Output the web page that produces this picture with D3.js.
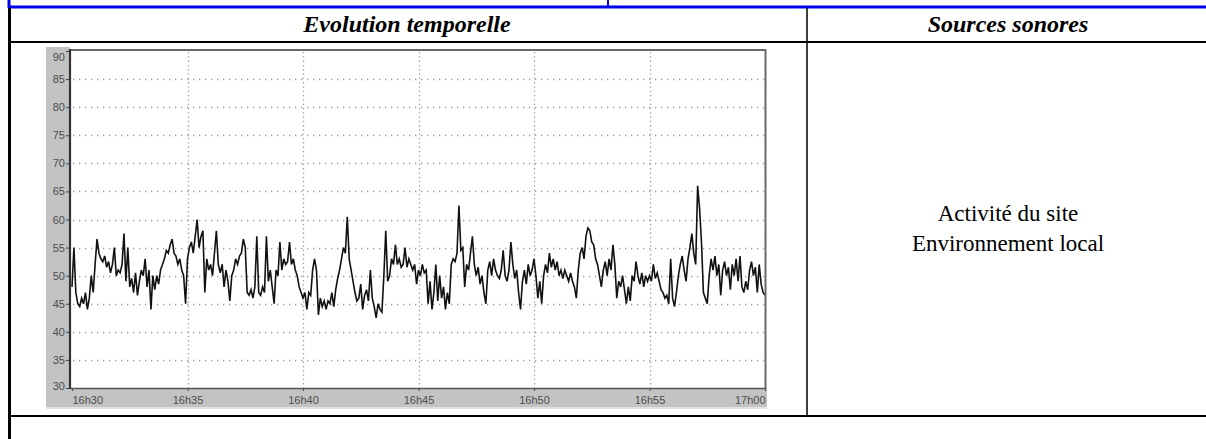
<!DOCTYPE html>
<html lang="fr">
<head>
<meta charset="utf-8">
<script src="https://cdn.jsdelivr.net/npm/d3@7"></script>
<style>
  body { margin: 0; background: #fff; }
  svg { display: block; }
  .hed { font-family: "Liberation Serif", "Times New Roman", serif; font-weight: bold; font-style: italic; font-size: 24px; }
  .src { font-family: "Liberation Serif", "Times New Roman", serif; font-size: 23px; }
  .axis text { font-family: "Liberation Sans", Arial, sans-serif; font-size: 11px; fill: #4d4d4d; }
  .axis line { stroke: #444; }
  .axis .domain { display: none; }
</style>
</head>
<body>
<svg id="page" width="1206" height="439"></svg>
<script>
var headers = ["Evolution temporelle", "Sources sonores"];
var sources = ["Activité du site", "Environnement local"];
var timeLabels = ["16h30", "16h35", "16h40", "16h45", "16h50", "16h55", "17h00"];
var levelTicks = [30, 35, 40, 45, 50, 55, 60, 65, 70, 75, 80, 85, 90];
var stepSeconds = 5;

// dB(A), one reading every 5 s, one line per minute
var levels = [
  48, 55, 47, 45, 44.5, 46, 45, 47, 44, 46, 50, 47,
  52, 56.5, 54, 53, 52.5, 53.5, 51.5, 52.5, 50.5, 52, 55, 50,
  51, 50.5, 52, 57.5, 49, 55, 48, 49.5, 47, 50.5, 46.5, 49,
  51, 50, 53, 48, 51, 44, 50, 47.5, 50, 48.5, 51, 52,
  53, 54.5, 54, 55.5, 56.5, 54, 53.5, 52, 53, 51, 50, 45,
  53, 55, 56, 54, 57, 60, 55, 57, 58, 47, 53, 51,
  52, 50, 54, 58, 52, 50.5, 52, 48, 51, 49, 45.5, 50,
  51, 53, 52, 53.5, 54, 56.5, 55, 47, 46.5, 47.5, 46, 48,
  57, 47, 46.5, 48, 47, 57, 49, 51, 48, 45, 51, 50,
  56, 51, 53, 52, 52.5, 56, 52, 53, 51, 50, 48, 47,
  46, 47, 44, 47, 46.5, 51, 53, 51, 43, 46, 44.5, 45.5,
  44, 45.5, 45, 47, 44.5, 47.5, 49.5, 51, 53, 55, 54, 60.5,
  53, 51, 49, 47, 45.5, 46, 48.5, 44, 46.5, 47.5, 45.5, 51,
  46, 44.5, 42.5, 45, 44, 43.5, 50, 58, 49, 50, 53, 52,
  55.5, 52, 53, 51.5, 52, 55, 51.5, 53, 52, 51, 52, 48.5,
  51, 50, 52, 50.5, 51, 45, 49, 44, 47, 52, 45.5, 50,
  46, 48, 44, 47, 45, 52, 53, 52.5, 54, 62.5, 54.5, 55,
  48, 52, 51, 54, 57, 52, 50, 51.5, 48.5, 50, 47, 45,
  51, 52.5, 50, 53, 51, 50, 49.5, 51, 54.5, 50, 49, 51,
  56, 52, 49.5, 51, 47, 44, 49, 51, 48.5, 52, 50, 51,
  53, 50, 46, 49, 45, 50, 52, 50.5, 54, 51.5, 53, 51,
  52.5, 50, 51, 49.5, 51, 50, 49, 50.5, 49, 48, 46, 51,
  54, 55, 53, 57, 58.5, 58, 56, 55.5, 53, 52, 50, 48,
  51, 52.5, 50, 53, 51, 55.5, 52, 46, 49, 48, 50, 47.5,
  45, 48, 45.5, 50, 49, 52.5, 50, 48.5, 50.5, 48, 50, 49,
  50, 49, 52, 49.5, 50.5, 49, 47.5, 47, 46, 46.5, 45, 53,
  46, 44.5, 47, 50, 52, 53.5, 51, 49, 53, 55, 57.5, 54,
  52, 66, 62, 56, 47, 46, 45, 50, 53, 51, 53.5, 50,
  52, 46.5, 51, 52.5, 50, 51.5, 47.5, 52, 50, 53, 49, 53.5,
  48, 47, 49, 47.5, 51, 52.5, 50, 51.5, 47, 52, 48.5, 47,
  46.5
];

function labelSeconds(label) {
  var p = label.split("h");
  var first = timeLabels[0].split("h");
  return ((+p[0] - +first[0]) * 60 + (+p[1] - +first[1])) * 60;
}
var timeTicks = timeLabels.map(labelSeconds);

var svg = d3.select("#page");

/* table frame */
var blue = "#0000ee";
svg.append("line").attr("x1", 8).attr("x2", 1206).attr("y1", 7).attr("y2", 7)
  .attr("stroke", blue).attr("stroke-width", 3);
svg.append("line").attr("x1", 9).attr("x2", 9).attr("y1", 0).attr("y2", 8)
  .attr("stroke", blue).attr("stroke-width", 3);
svg.append("line").attr("x1", 608).attr("x2", 608).attr("y1", 0).attr("y2", 8)
  .attr("stroke", blue).attr("stroke-width", 2);

svg.append("line").attr("x1", 9.5).attr("x2", 9.5).attr("y1", 8).attr("y2", 439)
  .attr("stroke", "#000").attr("stroke-width", 3);
svg.append("line").attr("x1", 11).attr("x2", 1206).attr("y1", 42).attr("y2", 42)
  .attr("stroke", "#000").attr("stroke-width", 2);
svg.append("line").attr("x1", 11).attr("x2", 1206).attr("y1", 416).attr("y2", 416)
  .attr("stroke", "#000").attr("stroke-width", 2);
svg.append("line").attr("x1", 807).attr("x2", 807).attr("y1", 8).attr("y2", 416)
  .attr("stroke", "#000").attr("stroke-width", 1.5);

svg.selectAll("text.hed")
  .data(headers)
  .enter().append("text")
  .attr("class", "hed")
  .attr("x", function(d, i) { return i == 0 ? 407 : 1008; })
  .attr("y", 32)
  .attr("text-anchor", "middle")
  .text(function(d) { return d; });

svg.selectAll("text.src")
  .data(sources)
  .enter().append("text")
  .attr("class", "src")
  .attr("x", 1008)
  .attr("y", function(d, i) { return 221 + i * 30; })
  .attr("text-anchor", "middle")
  .text(function(d) { return d; });

/* chart */
var x = d3.scaleLinear().domain([0, timeTicks[timeTicks.length - 1]]).range([72, 765]);
var y = d3.scaleLinear().domain([levelTicks[0], levelTicks[levelTicks.length - 1]]).range([388, 51]);

var chart = svg.append("g");

chart.append("rect").attr("x", 46).attr("y", 47).attr("width", 24).attr("height", 361).attr("fill", "#c3c3c3");
chart.append("rect").attr("x", 46).attr("y", 389).attr("width", 721).attr("height", 18).attr("fill", "#c3c3c3");
chart.append("line").attr("x1", 46).attr("x2", 767).attr("y1", 408).attr("y2", 408)
  .attr("stroke", "#e2e2e2").attr("stroke-width", 2);

// grid
chart.append("g")
  .selectAll("line")
  .data(levelTicks.slice(1, -1))
  .enter().append("line")
  .attr("x1", 73).attr("x2", 764)
  .attr("y1", function(d) { return Math.round(y(d)) + 0.5; })
  .attr("y2", function(d) { return Math.round(y(d)) + 0.5; })
  .attr("stroke", "#9a9a9a").attr("stroke-width", 1.3)
  .attr("stroke-dasharray", "1.3,4.7");

chart.append("g")
  .selectAll("line")
  .data(timeTicks.slice(1))
  .enter().append("line")
  .attr("x1", function(d) { return Math.round(x(d)) + 0.5; })
  .attr("x2", function(d) { return Math.round(x(d)) + 0.5; })
  .attr("y1", 52).attr("y2", 388)
  .attr("stroke", "#9a9a9a").attr("stroke-width", 1.3)
  .attr("stroke-dasharray", "1.3,3");

// trace
var line = d3.line()
  .x(function(d, i) { return x(i * stepSeconds); })
  .y(function(d) { return y(d); });

chart.append("path")
  .datum(levels)
  .attr("d", line)
  .attr("fill", "none")
  .attr("stroke", "#111")
  .attr("stroke-width", 1.6)
  .attr("stroke-linejoin", "miter");

// plot frame
chart.append("line").attr("x1", 70).attr("x2", 766).attr("y1", 50).attr("y2", 50)
  .attr("stroke", "#6a6a6a").attr("stroke-width", 2);
chart.append("line").attr("x1", 765.5).attr("x2", 765.5).attr("y1", 49).attr("y2", 389)
  .attr("stroke", "#6a6a6a").attr("stroke-width", 2);
chart.append("line").attr("x1", 70).attr("x2", 766).attr("y1", 388.5).attr("y2", 388.5)
  .attr("stroke", "#555").attr("stroke-width", 1.5);
chart.append("line").attr("x1", 70).attr("x2", 70).attr("y1", 49).attr("y2", 389)
  .attr("stroke", "#333").attr("stroke-width", 2.2);

// axes
var yAxis = d3.axisLeft(y).tickValues(levelTicks).tickSize(3).tickPadding(1);
var gy = chart.append("g").attr("class", "axis").attr("transform", "translate(69,0)").call(yAxis);
gy.selectAll(".tick text")
  .attr("dy", function(d, i) {
    if (i == levelTicks.length - 1) return "0.9em";
    if (i == 0) return "0.1em";
    return "0.32em";
  });

var xAxis = d3.axisBottom(x).tickValues(timeTicks).tickSize(2).tickPadding(5)
  .tickFormat(function(d, i) { return timeLabels[i]; });
var gx = chart.append("g").attr("class", "axis").attr("transform", "translate(0,389)").call(xAxis);
gx.selectAll(".tick text")
  .attr("text-anchor", function(d, i) {
    if (i == 0) return "start";
    if (i == timeTicks.length - 1) return "end";
    return "middle";
  });
</script>
</body>
</html>
